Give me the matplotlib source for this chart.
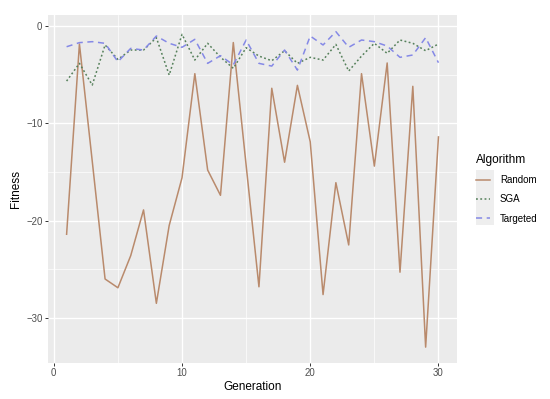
import numpy as np
import matplotlib
matplotlib.use("Agg")
import matplotlib.pyplot as plt
from matplotlib.ticker import MultipleLocator
from matplotlib.patches import Rectangle

plt.rcParams['font.family'] = ['Liberation Sans', 'DejaVu Sans']

generation = np.arange(1, 31)

random_fit = [-21.4, -1.85, -13.9, -26.0, -26.9, -23.6, -18.9, -28.5, -20.5, -15.6,
              -4.9, -14.8, -17.4, -1.7, -14.3, -26.8, -6.4, -14.0, -6.1, -11.9,
              -27.6, -16.1, -22.5, -4.9, -14.4, -3.8, -25.3, -6.2, -33.0, -11.4]
sga_fit = [-5.66, -3.84, -6.07, -1.95, -3.43, -2.47, -2.47, -1.2, -5.04, -0.86,
           -3.5, -1.78, -3.2, -4.35, -2.23, -3.09, -3.57, -2.54, -3.84, -3.22,
           -3.5, -1.89, -4.63, -3.09, -1.78, -2.81, -1.44, -1.78, -2.54, -1.85]
targeted_fit = [-2.13, -1.71, -1.61, -1.78, -3.67, -2.3, -2.47, -1.03, -1.78, -2.19,
                -1.37, -3.84, -3.05, -4.0, -1.44, -3.84, -4.12, -2.47, -4.53, -1.03,
                -1.95, -0.58, -2.19, -1.44, -1.61, -2.06, -3.22, -2.98, -1.2, -3.77]

labels = ["Random", "SGA", "Targeted"]
colors = ["#b98a6c", "#55805a", "#8589e6"]

fig = plt.figure(figsize=(5.5, 3.99), dpi=100)
ax = fig.add_axes([0.0873, 0.091, 0.831 - 0.0873, 0.9624 - 0.091])
ax.set_facecolor("#EBEBEB")

ax.plot(generation, random_fit, color=colors[0], lw=1.1, ls="-", label=labels[0])
ax.plot(generation, sga_fit, color=colors[1], lw=1.1, ls=(0, (1.2, 1.6)), label=labels[1])
ax.plot(generation, targeted_fit, color=colors[2], lw=1.1, ls=(0, (4, 3)), label=labels[2])

ax.set_xlim(-0.45, 31.45)
ax.set_ylim(-34.6, 1.13)
ax.xaxis.set_major_locator(MultipleLocator(10))
ax.xaxis.set_minor_locator(MultipleLocator(5))
ax.yaxis.set_major_locator(MultipleLocator(10))
ax.yaxis.set_minor_locator(MultipleLocator(5))
ax.grid(which="major", color="white", lw=1.0)
ax.grid(which="minor", color="white", lw=0.5)
ax.set_axisbelow(True)
for s in ax.spines.values():
    s.set_visible(False)
ax.tick_params(which="major", length=2.5, width=0.7, color="#333333",
               labelsize=6.9, labelcolor="#4D4D4D", pad=1.5)
ax.tick_params(which="minor", length=0)

ax.set_xlabel("Generation", fontsize=8.5, labelpad=2)
ax.set_ylabel("Fitness", fontsize=8.5, labelpad=3)

# grey legend key background, like ggplot (drawn below the axes/legend)
fig.patches.append(Rectangle((476 / 550, 1 - 225 / 399), 18 / 550, 55 / 399,
                             transform=fig.transFigure, facecolor="#EEEEEE",
                             edgecolor="none", zorder=-5))

leg = ax.legend(loc="center left", bbox_to_anchor=(1.025, 0.5), frameon=False,
                title="Algorithm", fontsize=7, title_fontsize=8.6,
                handlelength=1.45, handletextpad=1.0, labelspacing=0.95)
leg._legend_box.align = "left"

fig.savefig("out.png", dpi=100)
